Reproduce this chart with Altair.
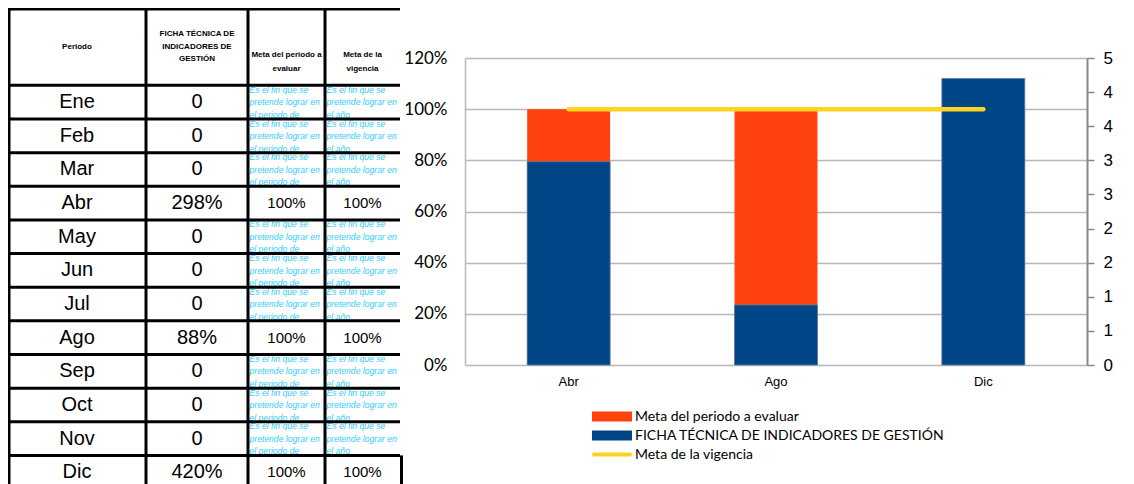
import altair as alt
import pandas as pd

# ---------------- table data ----------------
periodos = ["Ene", "Feb", "Mar", "Abr", "May", "Jun", "Jul", "Ago", "Sep", "Oct", "Nov", "Dic"]
ficha_txt = ["0", "0", "0", "298%", "0", "0", "0", "88%", "0", "0", "0", "420%"]
meta_periodo_txt = ["", "", "", "100%", "", "", "", "100%", "", "", "", "100%"]
meta_vigencia_txt = ["", "", "", "100%", "", "", "", "100%", "", "", "", "100%"]
encabezados = ["Periodo", "FICHA TÉCNICA DE\nINDICADORES DE\nGESTIÓN",
               "Meta del periodo a\nevaluar", "Meta de la\nvigencia"]
nota_periodo = "Es el fin que se\npretende lograr en\nel periodo de"
nota_vigencia = "Es el fin que se\npretende lograr en\nel año"

# ---------------- chart data ----------------
chart_periodos = ["Abr", "Ago", "Dic"]
ficha_vals = [2.98, 0.88, 4.20]          # right axis
meta_periodo_vals = [1.0, 1.0, 1.0]      # left axis
meta_vigencia_vals = [1.0, 1.0, 1.0]     # left axis
left_ticks = [0, 0.2, 0.4, 0.6, 0.8, 1.0, 1.2]
right_ticks = [0, 0.5, 1.0, 1.5, 2.0, 2.5, 3.0, 3.5, 4.0, 4.5]
series = ["Meta del periodo a evaluar", "FICHA TÉCNICA DE INDICADORES DE GESTIÓN", "Meta de la vigencia"]
series_colors = ["#FF420E", "#004586", "#FFD320"]

# ---------------- table layout ----------------
COL_W = [138, 102, 77, 75]
edges = [0]
for w in COL_W:
    edges.append(edges[-1] + w)
centers = [(edges[i] + edges[i + 1]) / 2 for i in range(4)]
TABLE_W = 396
TABLE_H = 476
HEAD = 2.3
Y_MAX = 11.85

xs = alt.Scale(domain=[0, TABLE_W], nice=False, zero=False)
ys = alt.Scale(domain=[-HEAD, Y_MAX], nice=False, zero=False, reverse=True)


def TX(f="x"):
    return alt.X(f"{f}:Q", scale=xs, axis=None)


def TY(f="y"):
    return alt.Y(f"{f}:Q", scale=ys, axis=None)


big_rows, small_rows, note_rows = [], [], []
for i, p in enumerate(periodos):
    yc = i + 0.5
    big_rows.append(dict(x=centers[0], y=yc, t=p))
    big_rows.append(dict(x=centers[1], y=yc, t=ficha_txt[i]))
    if meta_periodo_txt[i]:
        small_rows.append(dict(x=centers[2], y=yc, t=meta_periodo_txt[i]))
    else:
        note_rows.append(dict(x=edges[2], y=i, t=nota_periodo))
    if meta_vigencia_txt[i]:
        small_rows.append(dict(x=centers[3], y=yc, t=meta_vigencia_txt[i]))
    else:
        note_rows.append(dict(x=edges[3], y=i, t=nota_vigencia))

head_p = pd.DataFrame(dict(x=centers[:1], y=[-HEAD / 2], t=encabezados[:1]))
head_f = pd.DataFrame(dict(x=centers[1:2], y=[-HEAD / 2], t=encabezados[1:2]))
head_m = pd.DataFrame(dict(x=centers[2:], y=[-HEAD / 2] * 2, t=encabezados[2:]))

hlines = pd.DataFrame(dict(x=[0] * 12, x2=[edges[-1]] * 12, y=list(range(12)), y2=list(range(12))))
vlines = pd.DataFrame(dict(x=edges[1:-1], x2=edges[1:-1], y=[-HEAD] * 3, y2=[12] * 3))
outer_top = pd.DataFrame(dict(x=[0], x2=[edges[-1]], y=[-HEAD], y2=[-HEAD]))
outer_left = pd.DataFrame(dict(x=[0], y=[-HEAD], y2=[12]))
dic_border = pd.DataFrame(dict(x=[edges[-1] + 1.5], y=[11], y2=[12]))

base_font = "Liberation Sans"

t_big = alt.Chart(pd.DataFrame(big_rows)).mark_text(
    font=base_font, fontSize=20, color="#000", baseline="middle", clip=True
).encode(x=TX(), y=TY(), text="t:N")
t_small = alt.Chart(pd.DataFrame(small_rows)).mark_text(
    font=base_font, fontSize=15, color="#000", baseline="middle", clip=True
).encode(x=TX(), y=TY(), text="t:N")
t_note = alt.Chart(pd.DataFrame(note_rows)).mark_text(
    font=base_font, fontSize=8.6, fontStyle="italic", color="#33CCFF", align="left",
    baseline="top", lineBreak="\n", lineHeight=12.5, dx=1.5, dy=0.5, clip=True
).encode(x=TX(), y=TY(), text="t:N")
t_head_p = alt.Chart(head_p).mark_text(
    font=base_font, fontSize=8, fontWeight="bold", color="#000", baseline="middle", clip=True
).encode(x=TX(), y=TY(), text="t:N")
t_head_f = alt.Chart(head_f).mark_text(
    font=base_font, fontSize=8, fontWeight="bold", color="#000", baseline="middle",
    lineBreak="\n", lineHeight=12.5, dy=-12.5, clip=True
).encode(x=TX(), y=TY(), text="t:N")
t_head_m = alt.Chart(head_m).mark_text(
    font=base_font, fontSize=8, fontWeight="bold", color="#000", baseline="middle",
    lineBreak="\n", lineHeight=14, dy=8, clip=True
).encode(x=TX(), y=TY(), text="t:N")
r_h = alt.Chart(hlines).mark_rule(color="#000", strokeWidth=3, clip=True).encode(
    x=TX(), x2="x2:Q", y=TY(), y2="y2:Q")
r_v = alt.Chart(vlines).mark_rule(color="#000", strokeWidth=3, clip=True).encode(
    x=TX(), x2="x2:Q", y=TY(), y2="y2:Q")
r_top = alt.Chart(outer_top).mark_rule(color="#000", strokeWidth=5, clip=True).encode(
    x=TX(), x2="x2:Q", y=TY(), y2="y2:Q")
r_left = alt.Chart(outer_left).mark_rule(color="#000", strokeWidth=5, clip=True).encode(
    x=TX(), y=TY(), y2="y2:Q")
r_dic = alt.Chart(dic_border).mark_rule(color="#000", strokeWidth=3, clip=True).encode(
    x=TX(), y=TY(), y2="y2:Q")

table = alt.layer(t_big, t_small, t_note, t_head_p, t_head_f, t_head_m,
                  r_h, r_v, r_top, r_left, r_dic).properties(width=TABLE_W, height=TABLE_H)

# ---------------- bar/line chart ----------------
df_meta_p = pd.DataFrame(dict(periodo=chart_periodos, valor=meta_periodo_vals, serie=series[0]))
df_ficha = pd.DataFrame(dict(periodo=chart_periodos, valor=ficha_vals, serie=series[1]))
df_meta_v = pd.DataFrame(dict(periodo=chart_periodos, valor=meta_vigencia_vals, serie=series[2]))

rect_path = "M-1,-0.25H1V0.25H-1Z"
line_path = "M-0.9,-0.1H0.9A0.1,0.1,0,0,1,0.9,0.1H-0.9A0.1,0.1,0,0,1,-0.9,-0.1Z"

legend = alt.Legend(
    title=None, orient="none", legendX=127, legendY=349, direction="vertical",
    symbolType={"expr": f"datum.value === '{series[2]}' ? '{line_path}' : '{rect_path}'"},
    symbolSize=1600, clipHeight=19, rowPadding=0,
    labelFont="Lato", labelFontSize=14, labelColor="#000", labelOffset=3, labelLimit=500,
    symbolStrokeWidth=0, symbolOpacity=1, padding=0,
)
color = alt.Color("serie:N", scale=alt.Scale(domain=series, range=series_colors), legend=legend)

x_enc = alt.X("periodo:N", sort=chart_periodos,
              scale=alt.Scale(paddingInner=0.6, paddingOuter=0.3),
              axis=alt.Axis(title=None, labelAngle=0, ticks=False, domain=False,
                            labelFont=base_font, labelFontSize=13, labelColor="#000",
                            labelPadding=10))

bars_p = alt.Chart(df_meta_p).mark_bar().encode(
    x=x_enc,
    y=alt.Y("valor:Q", scale=alt.Scale(domain=[0, 1.2], nice=False, zero=True),
            axis=alt.Axis(orient="left", values=left_ticks, format=".0%", title=None,
                          grid=True, gridColor="#b8b8b8", gridWidth=1.5,
                          domain=True, domainColor="#b8b8b8", domainWidth=1.5,
                          ticks=False, labelPadding=18, labelFont="Lato", labelFontSize=17,
                          labelColor="#000")),
    color=color,
)
bars_f = alt.Chart(df_ficha).mark_bar(stroke="#5b80aa", strokeWidth=0.8).encode(
    x=x_enc,
    y=alt.Y("valor:Q", scale=alt.Scale(domain=[0, 4.5], nice=False, zero=True),
            axis=alt.Axis(orient="right", values=right_ticks, labelExpr="round(datum.value)",
                          title=None, grid=False, domainColor="#888888", domainWidth=2,
                          tickColor="#888888", tickSize=7, tickWidth=1.5, labelPadding=9,
                          labelFont=base_font, labelFontSize=17, labelColor="#000")),
    color=color,
)
line_v = alt.Chart(df_meta_v).mark_line(strokeWidth=4.5, strokeCap="round").encode(
    x=x_enc,
    y=alt.Y("valor:Q", scale=alt.Scale(domain=[0, 1.2], nice=False, zero=True), axis=None),
    color=color,
)

combo = alt.layer(bars_p, bars_f, line_v).resolve_scale(y="independent").properties(
    width=622, height=307)

# invisible strip that keeps the chart below the top edge (layout only)
spacer = alt.Chart(pd.DataFrame({"v": [0]})).mark_point(
    opacity=0, size=0, strokeWidth=0, clip=True).encode(
    x=alt.X("v:Q", axis=None), y=alt.Y("v:Q", axis=None)).properties(width=622, height=1)

right = alt.vconcat(spacer, combo, spacing=49, bounds="flush").resolve_scale(color="independent")

chart = alt.hconcat(table, right, spacing=61, bounds="flush").resolve_scale(
    color="independent").configure_view(stroke=None).properties(padding=0, background="white")

chart.save("out.html", embed_options={"renderer": "svg", "actions": False})
